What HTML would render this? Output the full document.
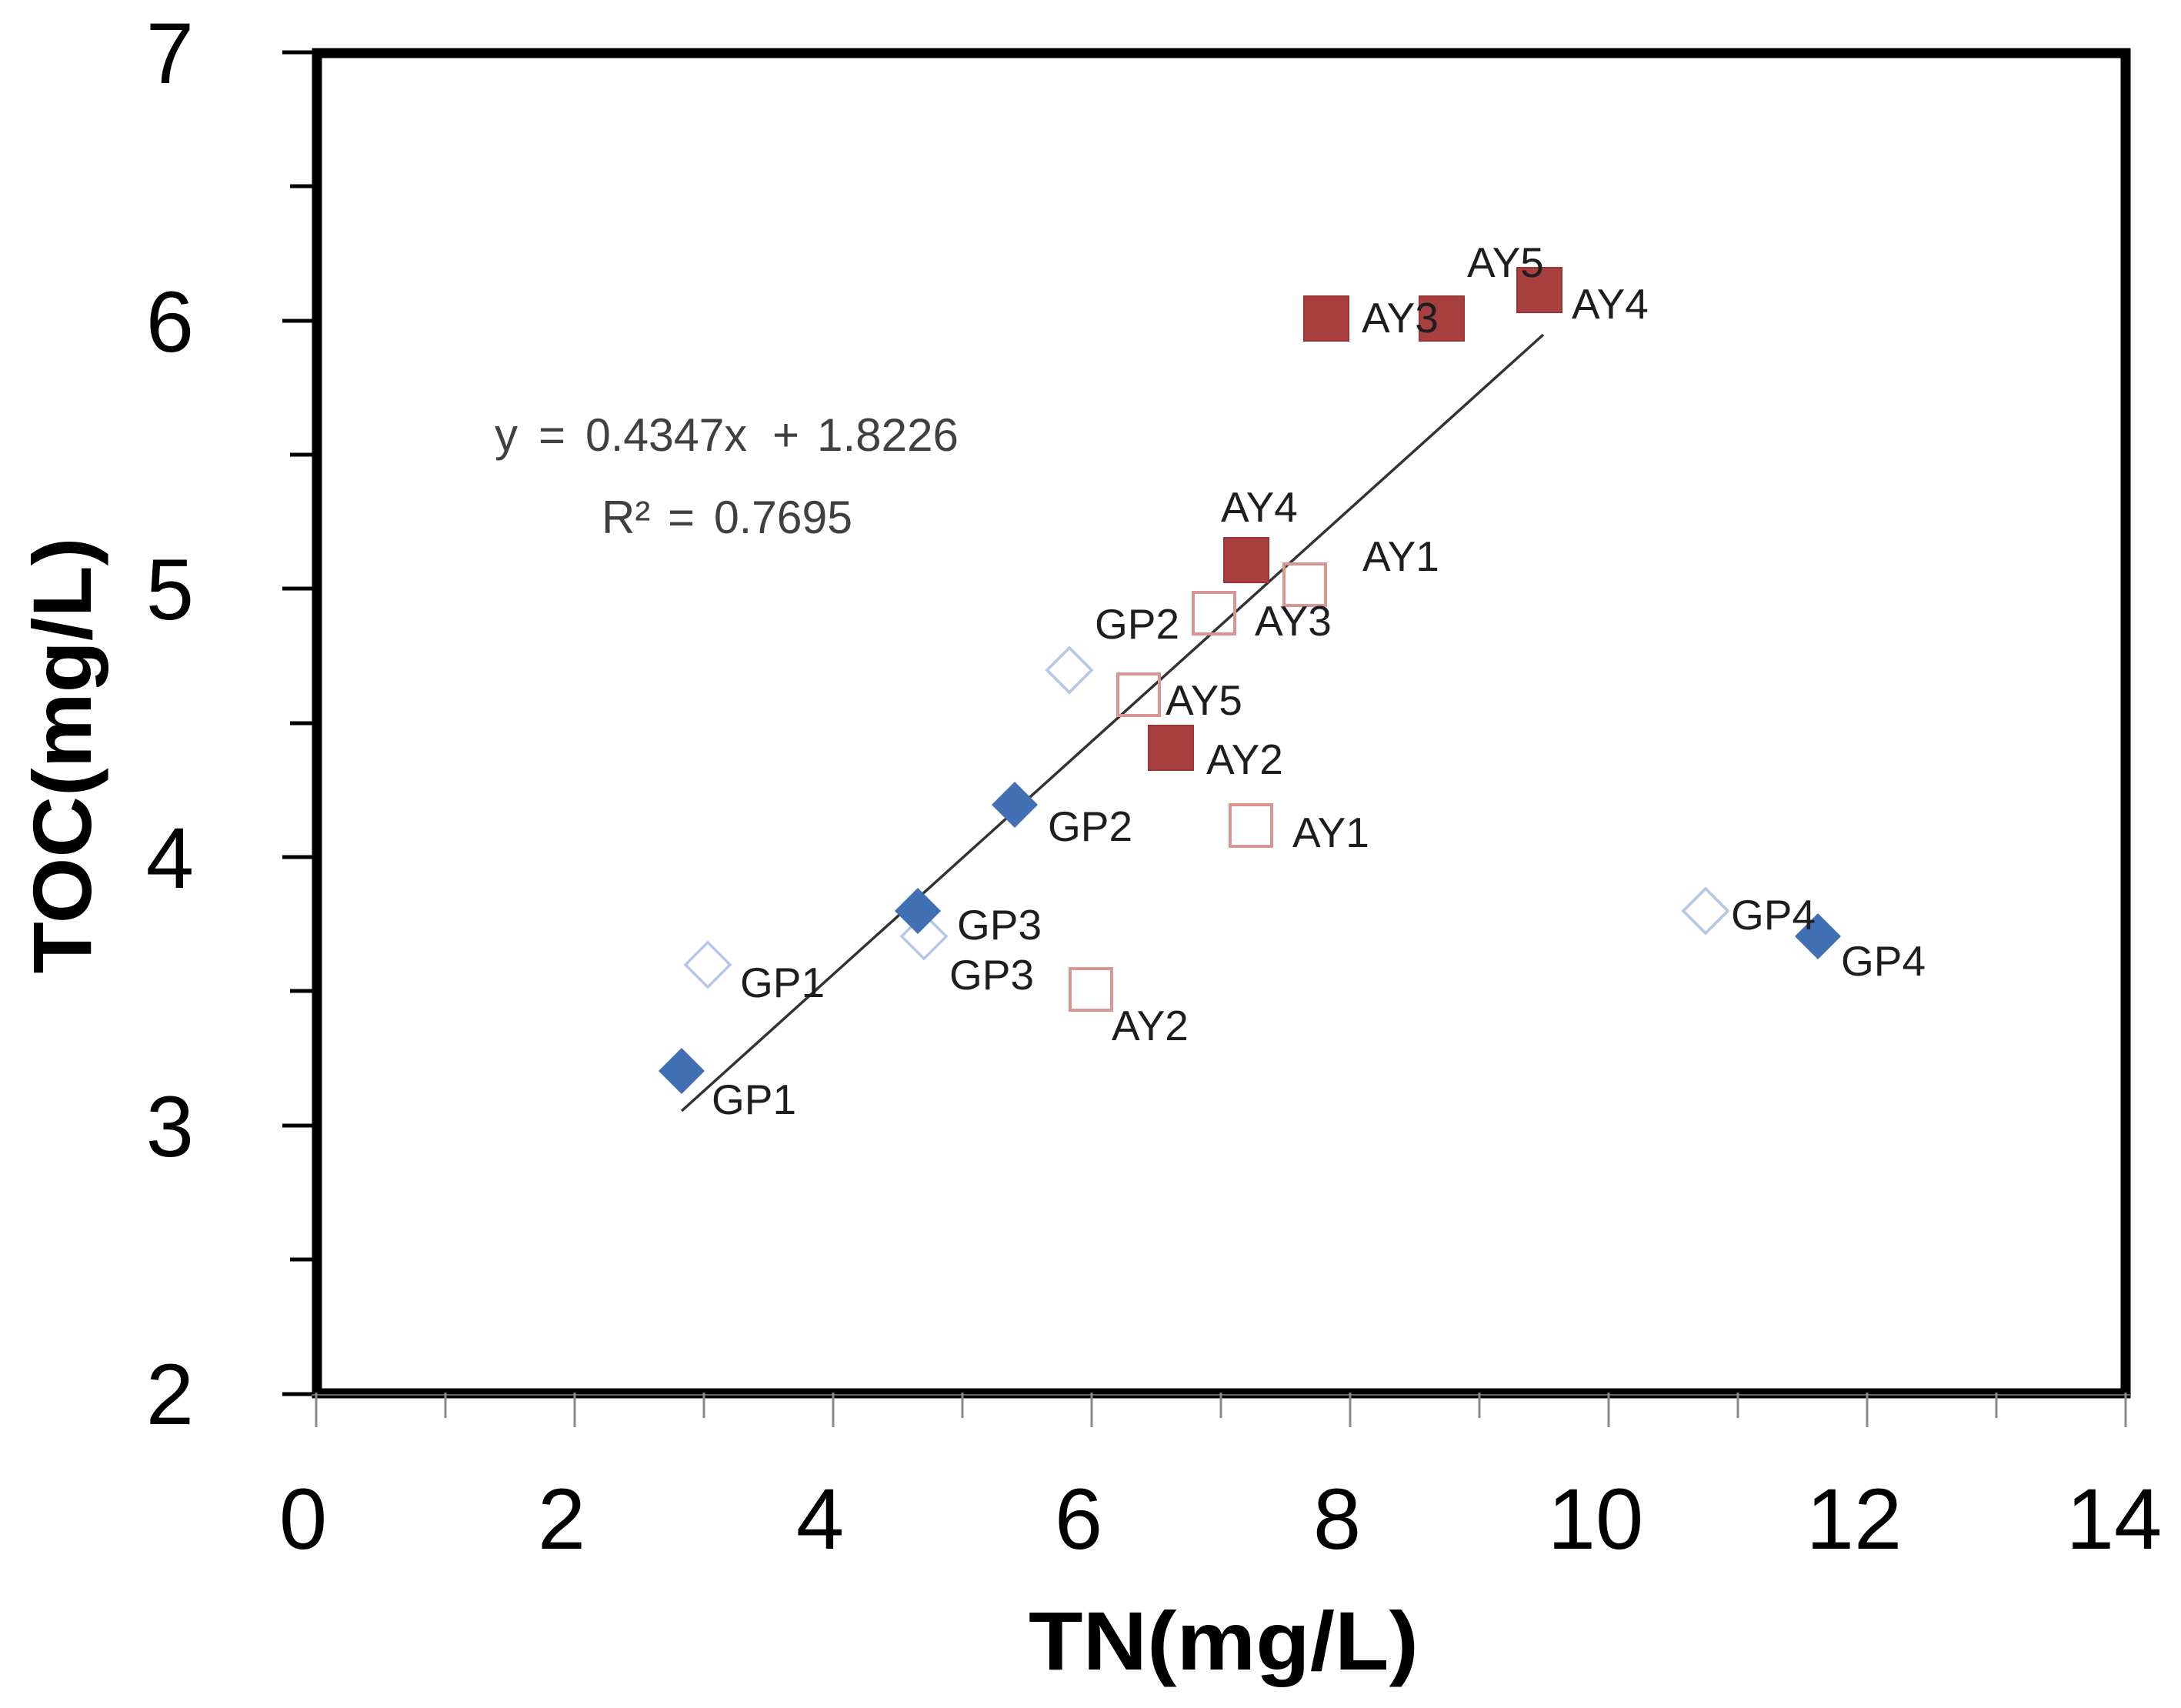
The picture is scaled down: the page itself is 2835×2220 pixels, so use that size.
<!DOCTYPE html>
<html>
<head>
<meta charset="utf-8">
<style>
html,body{margin:0;padding:0;background:#fff;}
svg{display:block;}
text{font-family:"Liberation Sans",Arial,sans-serif;}
</style>
</head>
<body>
<svg width="2835" height="2220" viewBox="0 0 2835 2220" xmlns="http://www.w3.org/2000/svg">
<rect width="2835" height="2220" fill="#fff"/>

<!-- y ticks -->
<g stroke="#000" stroke-width="5">
  <line x1="367" y1="68" x2="412" y2="68"/>
  <line x1="377" y1="242" x2="412" y2="242"/>
  <line x1="367" y1="417" x2="412" y2="417"/>
  <line x1="377" y1="591" x2="412" y2="591"/>
  <line x1="367" y1="765" x2="412" y2="765"/>
  <line x1="377" y1="940" x2="412" y2="940"/>
  <line x1="367" y1="1114" x2="412" y2="1114"/>
  <line x1="377" y1="1288" x2="412" y2="1288"/>
  <line x1="367" y1="1463" x2="412" y2="1463"/>
  <line x1="377" y1="1637" x2="412" y2="1637"/>
  <line x1="367" y1="1812" x2="412" y2="1812"/>
</g>

<!-- plot box -->
<rect x="412" y="69" width="2351" height="1742" fill="none" stroke="#000" stroke-width="13"/>
<line x1="405" y1="1813" x2="2770" y2="1813" stroke="#666" stroke-width="2"/>

<!-- x ticks -->
<g stroke="#8a8a8a" stroke-width="3">
  <line x1="411" y1="1810" x2="411" y2="1855"/>
  <line x1="579" y1="1810" x2="579" y2="1843"/>
  <line x1="747" y1="1810" x2="747" y2="1855"/>
  <line x1="915" y1="1810" x2="915" y2="1843"/>
  <line x1="1083" y1="1810" x2="1083" y2="1855"/>
  <line x1="1251" y1="1810" x2="1251" y2="1843"/>
  <line x1="1419" y1="1810" x2="1419" y2="1855"/>
  <line x1="1587" y1="1810" x2="1587" y2="1843"/>
  <line x1="1755" y1="1810" x2="1755" y2="1855"/>
  <line x1="1923" y1="1810" x2="1923" y2="1843"/>
  <line x1="2091" y1="1810" x2="2091" y2="1855"/>
  <line x1="2259" y1="1810" x2="2259" y2="1843"/>
  <line x1="2427" y1="1810" x2="2427" y2="1855"/>
  <line x1="2595" y1="1810" x2="2595" y2="1843"/>
  <line x1="2763" y1="1810" x2="2763" y2="1855"/>
</g>

<!-- y tick labels -->
<g font-size="112" fill="#000" text-anchor="end">
  <text x="252" y="108">7</text>
  <text x="252" y="457">6</text>
  <text x="252" y="805">5</text>
  <text x="252" y="1154">4</text>
  <text x="252" y="1503">3</text>
  <text x="252" y="1851">2</text>
</g>

<!-- x tick labels -->
<g font-size="112" fill="#000" text-anchor="middle">
  <text x="394" y="2013">0</text>
  <text x="730" y="2013">2</text>
  <text x="1066" y="2013">4</text>
  <text x="1402" y="2013">6</text>
  <text x="1738" y="2013">8</text>
  <text x="2074" y="2013">10</text>
  <text x="2410" y="2013">12</text>
  <text x="2748" y="2013">14</text>
</g>

<!-- axis titles -->
<text x="1337" y="2170" font-size="108" font-weight="bold" fill="#000" textLength="507" lengthAdjust="spacingAndGlyphs">TN(mg/L)</text>
<text transform="translate(118,982) rotate(-90)" x="0" y="0" font-size="108" font-weight="bold" fill="#000" text-anchor="middle" textLength="567" lengthAdjust="spacingAndGlyphs">TOC(mg/L)</text>

<!-- trend line -->
<line x1="886" y1="1444" x2="2006" y2="435" stroke="#333" stroke-width="3.5"/>

<!-- open diamonds -->
<g fill="none" stroke="#b4c7e7" stroke-width="3.5">
  <polygon points="920,1225 949,1254 920,1283 891,1254"/>
  <polygon points="1201,1188 1230,1217 1201,1246 1172,1217"/>
  <polygon points="1390,842 1419,871 1390,900 1361,871"/>
  <polygon points="2217,1155 2246,1184 2217,1213 2188,1184"/>
</g>

<!-- filled diamonds -->
<g fill="#4170b4">
  <polygon points="886,1362 916,1392 886,1422 856,1392"/>
  <polygon points="1193,1154 1223,1184 1193,1214 1163,1184"/>
  <polygon points="1319,1016 1349,1046 1319,1076 1289,1046"/>
  <polygon points="2363,1187 2393,1217 2363,1247 2333,1217"/>
</g>

<!-- open squares -->
<g fill="none" stroke="#d99594" stroke-width="4">
  <rect x="1669" y="733" width="54" height="54"/>
  <rect x="1551" y="770" width="54" height="54"/>
  <rect x="1453" y="876" width="54" height="54"/>
  <rect x="1599" y="1046" width="54" height="54"/>
  <rect x="1391" y="1259" width="54" height="54"/>
</g>

<!-- filled squares -->
<g fill="#a8403f" stroke="#9a3535" stroke-width="2">
  <rect x="1695" y="385" width="58" height="58"/>
  <rect x="1845" y="385" width="58" height="58"/>
  <rect x="1972" y="348" width="58" height="58"/>
  <rect x="1591" y="699" width="58" height="58"/>
  <rect x="1493" y="943" width="58" height="58"/>
</g>

<!-- point labels -->
<g font-size="55" fill="#1e1e1e">
  <text x="925" y="1448">GP1</text>
  <text x="962" y="1296">GP1</text>
  <text x="1244" y="1221">GP3</text>
  <text x="1234" y="1286">GP3</text>
  <text x="1362" y="1093">GP2</text>
  <text x="1423" y="830">GP2</text>
  <text x="2250" y="1208">GP4</text>
  <text x="2393" y="1268">GP4</text>
  <text x="1587" y="678">AY4</text>
  <text x="1771" y="742">AY1</text>
  <text x="1631" y="826">AY3</text>
  <text x="1515" y="929">AY5</text>
  <text x="1568" y="1006">AY2</text>
  <text x="1680" y="1101">AY1</text>
  <text x="1445" y="1352">AY2</text>
  <text x="1770" y="432">AY3</text>
  <text x="1907" y="360">AY5</text>
  <text x="2043" y="414">AY4</text>
</g>

<!-- equation -->
<g font-size="60" fill="#404040">
  <text x="643" y="586">y</text>
  <text x="700" y="586">=</text>
  <text x="761" y="586" textLength="210" lengthAdjust="spacingAndGlyphs">0.4347x</text>
  <text x="1004" y="586">+</text>
  <text x="1062" y="586" textLength="184" lengthAdjust="spacingAndGlyphs">1.8226</text>
  <text x="782" y="693">R²</text>
  <text x="868" y="693">=</text>
  <text x="928" y="693" textLength="180" lengthAdjust="spacingAndGlyphs">0.7695</text>
</g>
</svg>
</body>
</html>
